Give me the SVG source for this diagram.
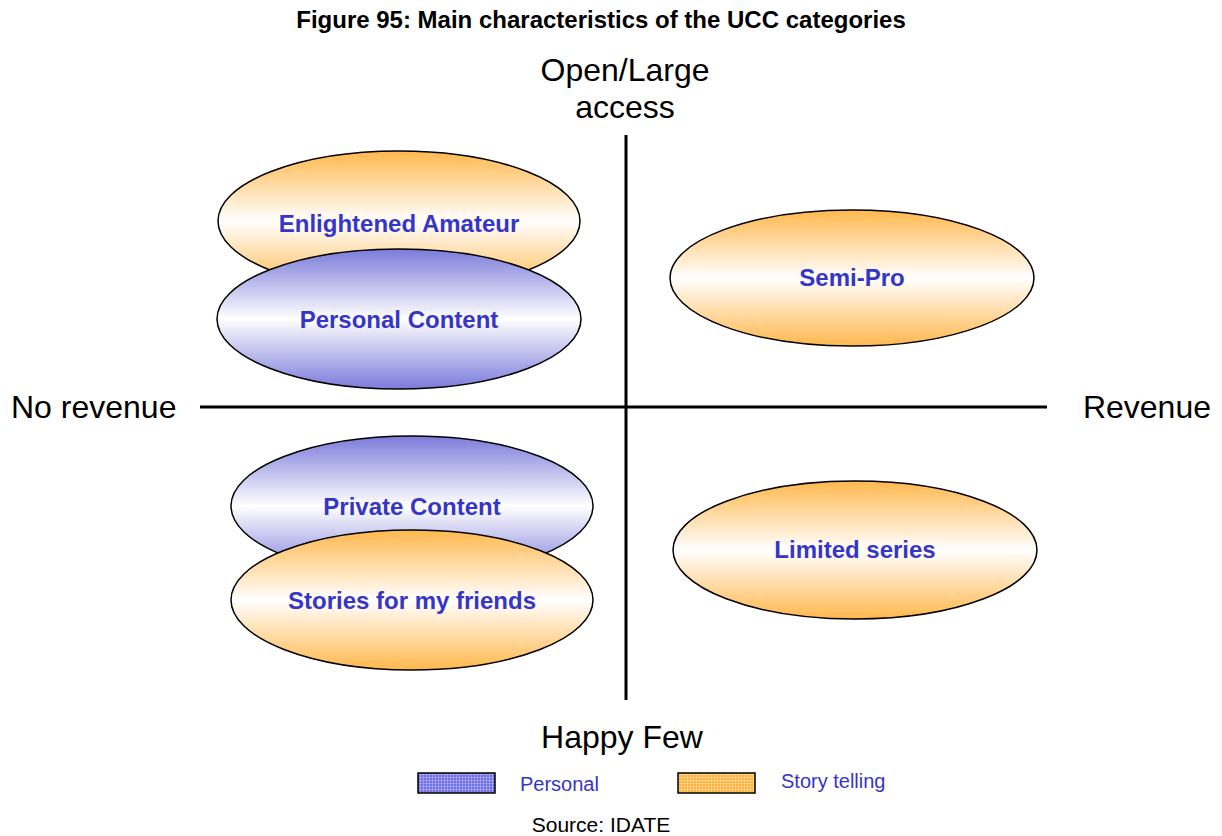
<svg xmlns="http://www.w3.org/2000/svg" width="1222" height="836" viewBox="0 0 1222 836">
<defs>
<linearGradient id="gOr" x1="0" y1="0" x2="0" y2="1">
<stop offset="0" stop-color="#FFB84D"/><stop offset="0.5" stop-color="#FFFFFF"/><stop offset="1" stop-color="#FFB84D"/>
</linearGradient>
<linearGradient id="gBl" x1="0" y1="0" x2="0" y2="1">
<stop offset="0" stop-color="#7B7BDB"/><stop offset="0.5" stop-color="#FFFFFF"/><stop offset="1" stop-color="#7B7BDB"/>
</linearGradient>
<pattern id="pBl" width="3" height="3" patternUnits="userSpaceOnUse">
<rect width="3" height="3" fill="#6E6EE0"/><path d="M0 0.5H3M0.5 0V3" stroke="#A8A8F0" stroke-width="0.8"/>
</pattern>
<pattern id="pOr" width="3" height="3" patternUnits="userSpaceOnUse">
<rect width="3" height="3" fill="#FFB03A"/><path d="M0 0.5H3M0.5 0V3" stroke="#FFD590" stroke-width="0.8"/>
</pattern>
</defs>
<style>
.ax{stroke:#000;stroke-width:3;fill:none}
.el{stroke:#000;stroke-width:1.5}
.lbl{font-family:"Liberation Sans",Arial,sans-serif;font-weight:bold;font-size:24px;fill:#3535C8;text-anchor:middle}
.axt{font-family:"Liberation Sans",Arial,sans-serif;font-size:32px;fill:#000}
.leg{font-family:"Liberation Sans",Arial,sans-serif;font-size:20px;fill:#3535C8}
</style>
<rect width="1222" height="836" fill="#fff"/>
<text x="601" y="28" text-anchor="middle" style="font-family:'Liberation Sans',Arial,sans-serif;font-weight:bold;font-size:24px">Figure 95: Main characteristics of the UCC categories</text>
<g id="axes">
<line class="ax" x1="200" y1="407" x2="1047" y2="407"/>
<line class="ax" x1="626" y1="135" x2="626" y2="700"/>
</g>
<g id="axis-labels">
<text class="axt" x="625" y="81" text-anchor="middle">Open/Large</text>
<text class="axt" x="625" y="118" text-anchor="middle">access</text>
<text class="axt" x="11" y="418">No revenue</text>
<text class="axt" x="1211" y="418" text-anchor="end">Revenue</text>
<text class="axt" x="622" y="748" text-anchor="middle">Happy Few</text>
</g>
<g id="enlightened-amateur">
<ellipse class="el" cx="399" cy="221" rx="181" ry="70" fill="url(#gOr)"/>
<text class="lbl" x="399" y="232">Enlightened Amateur</text>
</g>
<g id="personal-content">
<ellipse class="el" cx="399" cy="319" rx="182" ry="70" fill="url(#gBl)"/>
<text class="lbl" x="399" y="328">Personal Content</text>
</g>
<g id="semi-pro">
<ellipse class="el" cx="852" cy="278" rx="182" ry="68" fill="url(#gOr)"/>
<text class="lbl" x="852" y="286">Semi-Pro</text>
</g>
<g id="private-content">
<ellipse class="el" cx="412" cy="506" rx="181" ry="70" fill="url(#gBl)"/>
<text class="lbl" x="412" y="515">Private Content</text>
</g>
<g id="stories-for-my-friends">
<ellipse class="el" cx="412" cy="600" rx="181" ry="70" fill="url(#gOr)"/>
<text class="lbl" x="412" y="609">Stories for my friends</text>
</g>
<g id="limited-series">
<ellipse class="el" cx="855" cy="550" rx="182" ry="69" fill="url(#gOr)"/>
<text class="lbl" x="855" y="558">Limited series</text>
</g>
<g id="legend">
<rect x="418" y="773" width="77" height="20" fill="url(#pBl)" stroke="#000" stroke-width="1.5"/>
<text class="leg" x="520" y="791">Personal</text>
<rect x="678" y="773" width="77" height="20" fill="url(#pOr)" stroke="#000" stroke-width="1.5"/>
<text class="leg" x="781" y="788">Story telling</text>
</g>
<text x="601" y="832" text-anchor="middle" style="font-family:'Liberation Sans',Arial,sans-serif;font-size:21px">Source: IDATE</text>
</svg>
